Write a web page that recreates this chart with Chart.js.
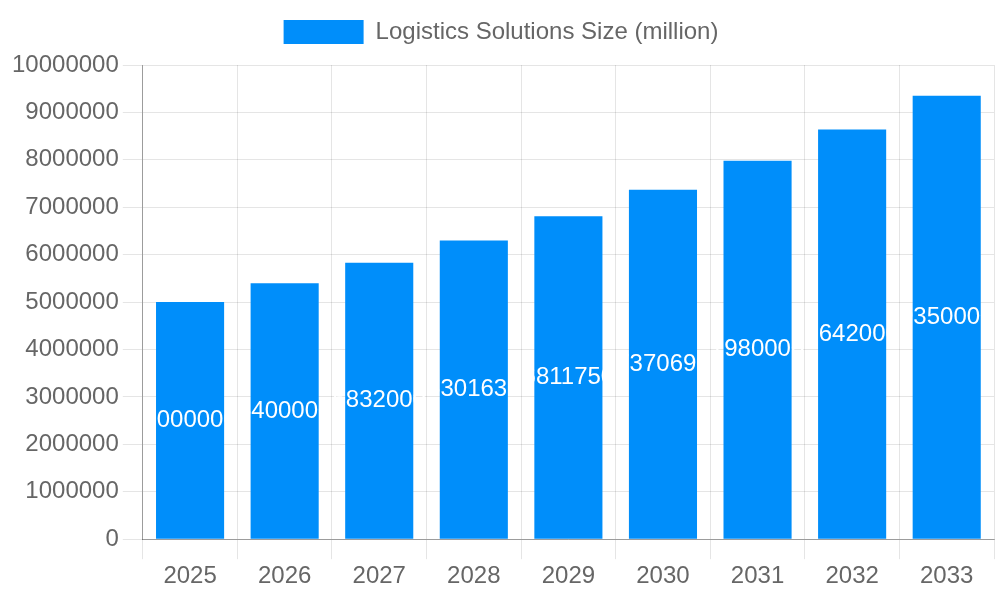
<!DOCTYPE html>
<html>
<head>
<meta charset="utf-8">
<script src="https://cdn.jsdelivr.net/npm/chart.js@4"></script>
<style>
  html, body { margin: 0; padding: 0; background: #fff; }
</style>
</head>
<body>
<canvas id="myBarChart" width="1000" height="600"></canvas>
<script>
var years = ["2025", "2026", "2027", "2028", "2029", "2030", "2031", "2032", "2033"];
var sizes = [5000000, 5400000, 5832000, 6301630, 6811750, 7370690, 7980000, 8642000, 9350000];

// white value labels in the middle of each bar
var centerLabels = {
  id: "centerLabels",
  afterDatasetsDraw: function(chart) {
    var c = chart.ctx;
    var meta = chart.getDatasetMeta(0);
    c.save();
    c.fillStyle = "#ffffff";
    c.font = "24px 'Liberation Sans', Arial, sans-serif";
    c.textAlign = "center";
    c.textBaseline = "middle";
    meta.data.forEach(function(bar, i) {
      var mid = (bar.y + bar.base) / 2;
      c.fillText(String(sizes[i]), bar.x, mid);
    });
    c.restore();
  }
};

// a bit more room under the legend
var legendGap = {
  id: "legendGap",
  beforeInit: function(chart) {
    var fit = chart.legend.fit;
    chart.legend.fit = function() {
      fit.bind(chart.legend)();
      this.height += 11;
    };
  }
};

Chart.defaults.font.family = "'Liberation Sans', Arial, sans-serif";
Chart.defaults.font.size = 24;
Chart.defaults.color = "#666666";

var ctx = document.getElementById("myBarChart");
var chart = new Chart(ctx, {
  type: "bar",
  data: {
    labels: years,
    datasets: [{
      label: "Logistics Solutions Size (million)",
      data: sizes,
      backgroundColor: "rgb(0, 142, 250)",
      borderWidth: 0
    }]
  },
  options: {
    responsive: false,
    animation: false,
    devicePixelRatio: 1,
    layout: { padding: { top: 8, right: 6, bottom: 6, left: 8 } },
    plugins: {
      legend: {
        labels: { boxWidth: 80, boxHeight: 24, padding: 12 }
      },
      tooltip: { enabled: false }
    },
    scales: {
      x: {
        grid: { color: "rgba(0,0,0,0.1)", tickLength: 20 },
        border: { color: "rgba(0,0,0,0.32)" }
      },
      y: {
        min: 0,
        max: 10000000,
        ticks: {
          stepSize: 1000000,
          padding: 4,
          callback: function(value) { return value; }
        },
        grid: { color: "rgba(0,0,0,0.1)", tickLength: 20 },
        border: { color: "rgba(0,0,0,0.32)" }
      }
    }
  },
  plugins: [centerLabels, legendGap]
});
</script>
</body>
</html>
